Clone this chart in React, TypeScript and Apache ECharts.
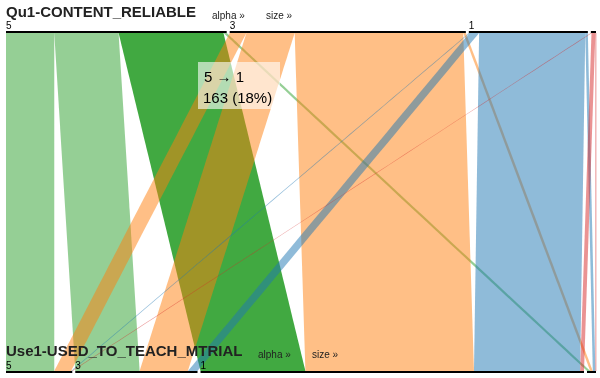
import { useEffect, useRef } from 'react';
import * as echarts from 'echarts';

const topDimension = 'Qu1-CONTENT_RELIABLE';
const bottomDimension = 'Use1-USED_TO_TEACH_MTRIAL';

// categories on each axis (last one is a tiny unlabeled category)
const topCategories = ['5', '3', '1', '4'];
const topLabelShown = [true, true, true, false];
const bottomCategories = ['5', '3', '1', '4'];
const bottomLabelShown = [true, true, true, false];

// flows: counts from each top category to bottom categories [5, 3, 1, 4]
const flowsFromTop5 = [75, 100, 163, 5];
const flowsFromTop3 = [26, 75, 262, 4];
const flowsFromTop1 = [1, 15, 165, 4];
const flowsFromTop4 = [1, 0, 6, 1];

const categoryColors = ['#2ca02c', '#ff7f0e', '#1f77b4', '#d62728'];

// highlighted ribbon (top index, bottom index)
const highlighted = [0, 2];

const FONT = '"Liberation Sans", Arial, sans-serif';

export default function App() {
  const ref = useRef<HTMLDivElement>(null);

  useEffect(() => {
    if (!ref.current) return;
    const chart = echarts.init(ref.current, undefined, { renderer: 'svg' });

    const flows = [flowsFromTop5, flowsFromTop3, flowsFromTop1, flowsFromTop4];
    const total = flows.reduce((s, r) => s + r.reduce((a, b) => a + b, 0), 0);

    const nodes: any[] = [];
    topCategories.forEach((c, i) => {
      nodes.push({
        name: 'top:' + c,
        label: { show: topLabelShown[i], formatter: c },
      });
    });
    bottomCategories.forEach((c, i) => {
      nodes.push({
        name: 'bottom:' + c,
        label: { show: bottomLabelShown[i], formatter: c },
      });
    });

    const links: any[] = [];
    flows.forEach((row, i) => {
      row.forEach((v, j) => {
        if (v <= 0) return;
        const isHi = i === highlighted[0] && j === highlighted[1];
        links.push({
          source: 'top:' + topCategories[i],
          target: 'bottom:' + bottomCategories[j],
          value: v,
          lineStyle: { color: categoryColors[i], opacity: isHi ? 0.9 : 0.5 },
        });
      });
    });

    const hiValue = flows[highlighted[0]][highlighted[1]];
    const hiPct = Math.round((hiValue / total) * 100);

    const Z = 100;

    chart.setOption({
      animation: false,
      series: [
        {
          type: 'sankey',
          orient: 'vertical',
          left: 6,
          right: 4,
          top: 31,
          bottom: 5,
          nodeWidth: 2,
          nodeGap: 3,
          layoutIterations: 0,
          nodeAlign: 'justify',
          draggable: false,
          itemStyle: { color: '#000', borderWidth: 0 },
          lineStyle: { curveness: 0 },
          label: {
            show: true,
            position: [0, -11],
            fontSize: 10,
            color: '#000',
            fontFamily: FONT,
          },
          emphasis: { disabled: true },
          data: nodes,
          links,
        },
      ],
      graphic: [
        {
          type: 'text',
          z: Z,
          x: 6,
          y: 4,
          style: { text: topDimension, font: 'bold 15px ' + FONT, fill: '#222', textVerticalAlign: 'top' },
        },
        {
          type: 'text',
          z: Z,
          x: 212,
          y: 15,
          style: { text: 'alpha »', font: '10px ' + FONT, fill: '#222', textVerticalAlign: 'middle' },
        },
        {
          type: 'text',
          z: Z,
          x: 266,
          y: 15,
          style: { text: 'size »', font: '10px ' + FONT, fill: '#222', textVerticalAlign: 'middle' },
        },
        {
          type: 'text',
          z: Z,
          x: 6,
          y: 343,
          style: { text: bottomDimension, font: 'bold 15px ' + FONT, fill: '#222', textVerticalAlign: 'top' },
        },
        {
          type: 'text',
          z: Z,
          x: 258,
          y: 354,
          style: { text: 'alpha »', font: '10px ' + FONT, fill: '#222', textVerticalAlign: 'middle' },
        },
        {
          type: 'text',
          z: Z,
          x: 312,
          y: 354,
          style: { text: 'size »', font: '10px ' + FONT, fill: '#222', textVerticalAlign: 'middle' },
        },
        {
          type: 'group',
          z: Z,
          x: 198,
          y: 62,
          children: [
            {
              type: 'rect',
              z: Z,
              shape: { x: 0, y: 0, width: 82, height: 47 },
              style: { fill: 'rgba(255,255,255,0.6)' },
            },
            {
              type: 'text',
              z: Z + 1,
              x: 6,
              y: 14,
              style: {
                text: topCategories[highlighted[0]] + ' → ' + bottomCategories[highlighted[1]],
                font: '15px ' + FONT,
                fill: '#000',
                textVerticalAlign: 'middle',
              },
            },
            {
              type: 'text',
              z: Z + 1,
              x: 5,
              y: 35,
              style: {
                text: hiValue + ' (' + hiPct + '%)',
                font: '15px ' + FONT,
                fill: '#000',
                textVerticalAlign: 'middle',
              },
            },
          ],
        },
      ],
    });

    return () => chart.dispose();
  }, []);

  return (
    <div
      ref={ref}
      style={{ position: 'fixed', left: 0, top: 0, width: 600, height: 378 }}
    />
  );
}
